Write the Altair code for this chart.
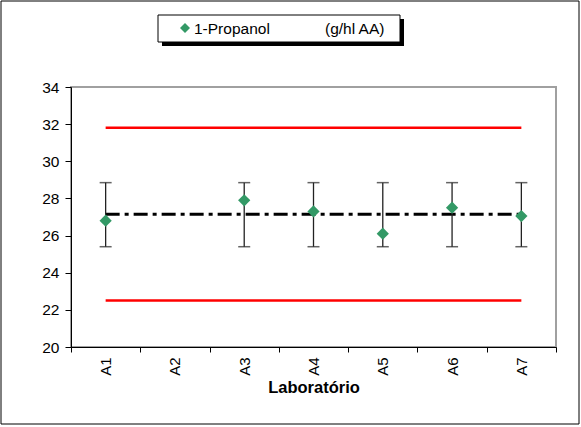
import altair as alt
import pandas as pd

labs = ["A1", "A2", "A3", "A4", "A5", "A6", "A7"]
result_labs = ["A1", "A3", "A4", "A5", "A6", "A7"]
results = [26.8, 27.9, 27.3, 26.1, 27.5, 27.05]
err_low = [25.4, 25.4, 25.4, 25.4, 25.4, 25.4]
err_high = [28.85, 28.85, 28.85, 28.85, 28.85, 28.85]
upper_limit = 31.8
lower_limit = 22.5
mean_value = 27.15

W, H = 485, 260
FONT = "Liberation Sans"

pts = pd.DataFrame({"lab": result_labs, "value": results, "lo": err_low, "hi": err_high})
lines = pd.DataFrame({
    "lab": labs * 3,
    "value": [upper_limit] * 7 + [lower_limit] * 7 + [mean_value] * 7,
    "kind": ["upper"] * 7 + ["lower"] * 7 + ["mean"] * 7,
})

xenc = alt.X("lab:N", sort=labs,
             scale=alt.Scale(type="band", domain=labs, paddingInner=0, paddingOuter=0),
             axis=alt.Axis(title="Laboratório", labelAngle=270, tickBand="extent",
                           labelFont=FONT, labelFontSize=15, labelColor="black",
                           titleFont=FONT, titleFontSize=16.5, titleFontWeight="bold",
                           titleColor="black", domainColor="black", tickColor="black",
                           tickSize=5, labelPadding=5, titlePadding=4, grid=False,
                           labelAlign="right", labelBaseline="middle"))
yscale = alt.Scale(domain=[20, 34], nice=False, zero=False)
yaxis = alt.Axis(title=None, values=[20, 22, 24, 26, 28, 30, 32, 34], grid=False,
                 labelFont=FONT, labelFontSize=15.5, labelColor="black",
                 domainColor="black", tickColor="black", tickSize=6, labelPadding=6)

base_l = alt.Chart(lines)
red = base_l.transform_filter("datum.kind != 'mean'").mark_line(
    color="#ff0000", strokeWidth=2.5).encode(
    x=xenc, y=alt.Y("value:Q", scale=yscale, axis=yaxis), detail="kind:N")
mean = base_l.transform_filter("datum.kind == 'mean'").mark_line(
    color="black", strokeWidth=3, strokeDash=[14, 5, 4, 5]).encode(
    x=xenc, y=alt.Y("value:Q", scale=yscale, axis=yaxis))

base_p = alt.Chart(pts)
err = base_p.mark_rule(color="#222222", strokeWidth=1.3).encode(
    x=xenc, y=alt.Y("lo:Q", scale=yscale, axis=yaxis), y2="hi:Q")
cap_lo = base_p.mark_tick(color="#222222", size=12, thickness=1.5).encode(
    x=xenc, y=alt.Y("lo:Q", scale=yscale, axis=yaxis))
cap_hi = base_p.mark_tick(color="#222222", size=12, thickness=1.5).encode(
    x=xenc, y=alt.Y("hi:Q", scale=yscale, axis=yaxis))
points = base_p.mark_point(shape="diamond", filled=True, size=150, opacity=1,
                           color="#339966").encode(
    x=xenc, y=alt.Y("value:Q", scale=yscale, axis=yaxis))

one = pd.DataFrame({"a": [0]})
frame = alt.Chart(one).mark_rect(fill=None, stroke="black", strokeWidth=1).encode(
    x=alt.value(-70), x2=alt.value(W + 23), y=alt.value(-86), y2=alt.value(H + 77))
shadow = alt.Chart(one).mark_rect(fill="black").encode(
    x=alt.value(91), x2=alt.value(333), y=alt.value(-68), y2=alt.value(-41))
box = alt.Chart(one).mark_rect(fill="white", stroke="black", strokeWidth=1).encode(
    x=alt.value(87), x2=alt.value(329), y=alt.value(-72), y2=alt.value(-45))
leg_sym = alt.Chart(one).mark_point(shape="diamond", filled=True, size=100, opacity=1,
                                    color="#339966").encode(
    x=alt.value(114), y=alt.value(-59))
leg_t1 = alt.Chart(one).mark_text(text="1-Propanol", font=FONT, fontSize=15.5, align="left",
                                  baseline="middle", color="black").encode(
    x=alt.value(123), y=alt.value(-58))
leg_t2 = alt.Chart(one).mark_text(text="(g/hl AA)", font=FONT, fontSize=15.5, align="left",
                                  baseline="middle", color="black").encode(
    x=alt.value(254), y=alt.value(-58))

chart = alt.layer(red, mean, err, cap_lo, cap_hi, points, frame, shadow, box,
                  leg_sym, leg_t1, leg_t2).properties(
    width=W, height=H,
    autosize=alt.AutoSizeParams(type="none"),
    padding={"left": 71, "top": 87, "right": 25, "bottom": 80},
    background="white",
).configure_view(stroke="#a0a0a0", strokeWidth=2)

chart.save("out.html", embed_options={"renderer": "svg", "actions": False})
